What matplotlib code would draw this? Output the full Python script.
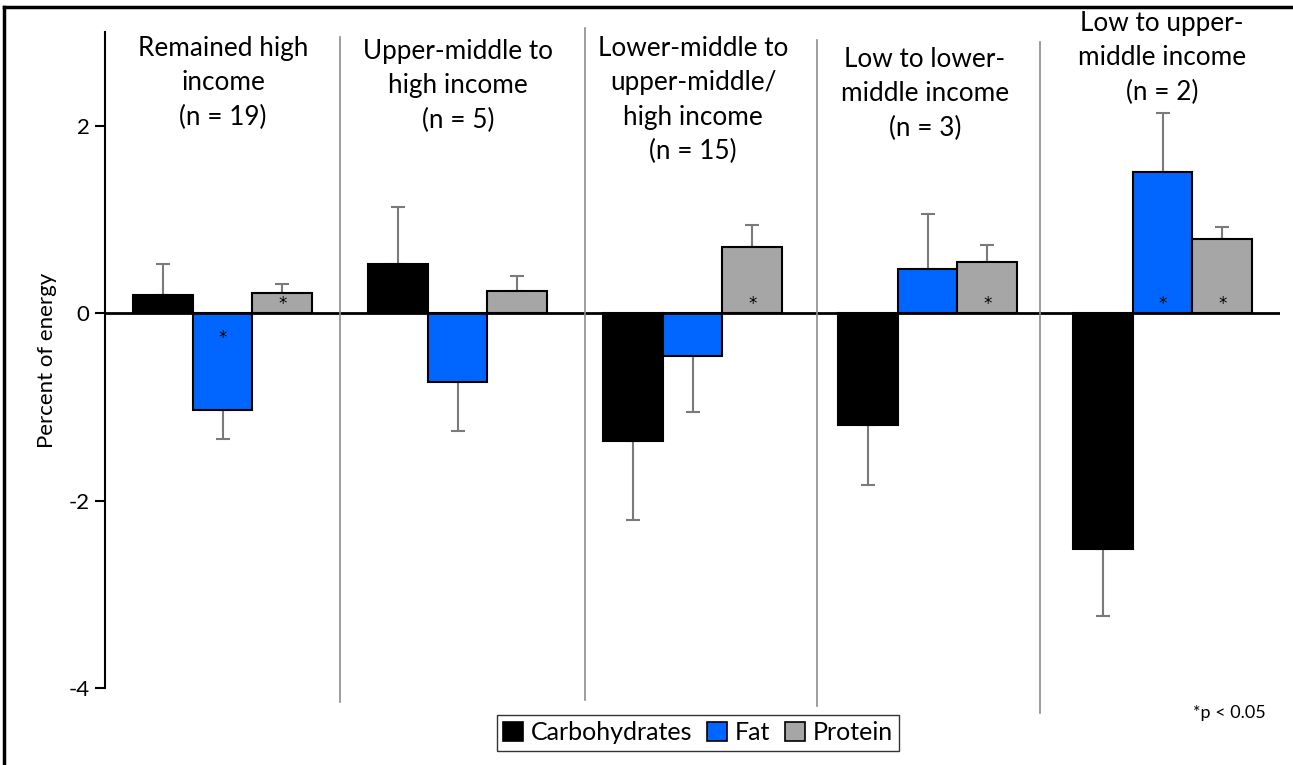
import numpy as np
import matplotlib.pyplot as plt
from matplotlib.lines import Line2D
from matplotlib.patches import Patch

plt.rcParams['font.family'] = ['Lato', 'DejaVu Sans']

groups = ['Remained high\nincome\n(n = 19)',
          'Upper-middle to\nhigh income\n(n = 5)',
          'Lower-middle to\nupper-middle/\nhigh income\n(n = 15)',
          'Low to lower-\nmiddle income\n(n = 3)',
          'Low to upper-\nmiddle income\n(n = 2)']
series = ['Carbohydrates', 'Fat', 'Protein']
carb = [0.19, 0.52, -1.36, -1.19, -2.52]
carb_err = [0.33, 0.61, 0.85, 0.64, 0.71]
fat = [-1.03, -0.74, -0.46, 0.47, 1.51]
fat_err = [0.31, 0.52, 0.59, 0.59, 0.63]
prot = [0.22, 0.24, 0.71, 0.55, 0.79]
prot_err = [0.09, 0.16, 0.23, 0.18, 0.13]
carb_sig = [False, False, False, False, True]
fat_sig = [True, False, False, False, True]
prot_sig = [True, False, True, True, True]
yticks = [-4, -2, 0, 2]

colors = ['#000000', '#0066FF', '#A6A6A6']

W, H = 1293, 765
fig = plt.figure(figsize=(W / 100, H / 100), dpi=100)
ax = fig.add_axes([105 / W, 1 - 688 / H, 1175 / W, (688 - 32) / H])

x = np.arange(len(groups))
w = 0.255
for i, (vals, errs, sig) in enumerate([(carb, carb_err, carb_sig),
                                       (fat, fat_err, fat_sig),
                                       (prot, prot_err, prot_sig)]):
    vals = np.array(vals)
    errs = np.array(errs)
    lo = np.where(vals < 0, errs, 0)
    hi = np.where(vals >= 0, errs, 0)
    xs = x + (i - 1) * w
    ax.bar(xs, vals, w, color=colors[i], edgecolor='black', linewidth=1.5, zorder=2)
    ax.errorbar(xs, vals, yerr=[lo, hi], fmt='none', ecolor='#7a7a7a',
                elinewidth=1.5, capsize=5, capthick=1.5, zorder=1)
    for xi, v, s in zip(xs, vals, sig):
        if s:
            ax.text(xi, -0.27 if v < 0 else 0.1, '*', ha='center', va='center',
                    fontsize=12, family='DejaVu Sans', zorder=3)

ax.axhline(0, color='black', linewidth=2, zorder=3)
ax.set_xlim(-0.5, 4.5)
ax.set_ylim(-4, 3.0)
ax.set_yticks(yticks)
ax.set_yticklabels([str(t) for t in yticks])
ax.set_xticks([])
for s in ['top', 'right', 'bottom']:
    ax.spines[s].set_visible(False)
ax.spines['left'].set_linewidth(1.5)
ax.tick_params(axis='y', direction='out', length=7, width=1.5, labelsize=16, pad=4)
ax.set_ylabel('Percent of energy', fontsize=16, labelpad=8)

# group dividers (pixel coords)
dividers = [(340, 37, 702), (585, 28, 700), (817, 40, 706), (1040, 42, 713)]
for px, top, bot in dividers:
    fig.add_artist(Line2D([px / W, px / W], [1 - top / H, 1 - bot / H],
                          color='#8c8c8c', linewidth=1.2))

title_y = [47, 50, 47, 58, 22]
title_x = [223, 458, 693, 925, 1162]
for g, tx, ty in zip(groups, title_x, title_y):
    fig.text(tx / W, 1 - (ty - 11) / H, g, ha='center', va='top',
             fontsize=18.8, linespacing=1.47)

# outer frame
fig.add_artist(Line2D([4 / W, 4 / W], [0, 1 - 7 / H], color='black', linewidth=2.5))
fig.add_artist(Line2D([4 / W, 1], [1 - 7 / H, 1 - 7 / H], color='black', linewidth=2.5))

handles = [Patch(facecolor=c, edgecolor='black', linewidth=1.2) for c in colors]
fig.legend(handles, series, loc='center', bbox_to_anchor=(698 / W, 1 - 733 / H),
           ncol=3, fontsize=18, frameon=True, fancybox=False, edgecolor='black',
           handlelength=0.8, handleheight=0.8, handletextpad=0.3, columnspacing=0.6,
           borderpad=0.25)

fig.text(1229 / W, 1 - 713 / H, '*p < 0.05', ha='center', va='center', fontsize=13)

fig.savefig('out.png', dpi=100)
